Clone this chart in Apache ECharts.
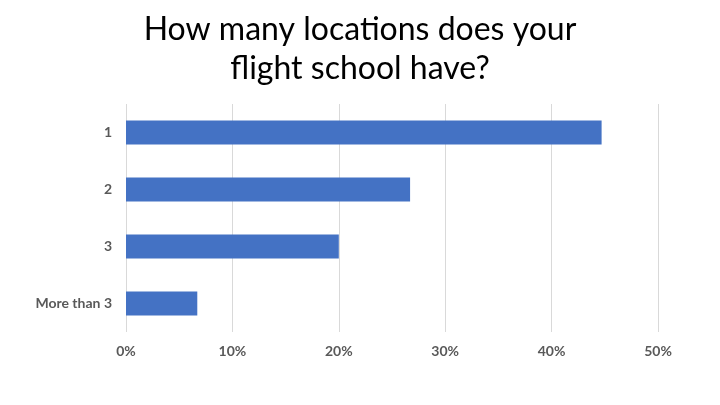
<!DOCTYPE html>
<html><head><meta charset="utf-8">
<script src="https://cdn.jsdelivr.net/npm/echarts@6/dist/echarts.min.js"></script>
<style>html,body{margin:0;padding:0;background:#fff}#c{width:720px;height:405px}</style>
</head><body><div id="c"></div>
<script>
const categories = ['1', '2', '3', 'More than 3'];
const values = [44.7, 26.7, 20.0, 6.7];
const titleText = 'How many locations does your\nflight school have?';

const chart = echarts.init(document.getElementById('c'));
chart.setOption({
  animation: false,
  title: {
    text: titleText, left: 'center', top: 5,
    textStyle: { fontFamily: 'Lato', fontSize: 32, fontWeight: 'normal', color: '#000', lineHeight: 39 }
  },
  grid: { left: 126, right: 62, top: 104, bottom: 73 },
  xAxis: {
    type: 'value', min: 0, max: 50, interval: 10,
    axisLabel: { formatter: '{value}%', color: '#595959', fontWeight: 'bold', fontSize: 14, fontFamily: 'Lato', margin: 12 },
    axisLine: { show: false }, axisTick: { show: false },
    splitLine: { lineStyle: { color: '#d9d9d9', width: 1 } }
  },
  yAxis: {
    type: 'category', data: categories, inverse: true,
    axisLabel: { color: '#595959', fontWeight: 'bold', fontSize: 14, fontFamily: 'Lato', margin: 14 },
    axisLine: { show: false }, axisTick: { show: false }
  },
  series: [{
    type: 'bar', data: values, barWidth: '42%',
    itemStyle: { color: '#4472C4' }
  }]
});
</script></body></html>
